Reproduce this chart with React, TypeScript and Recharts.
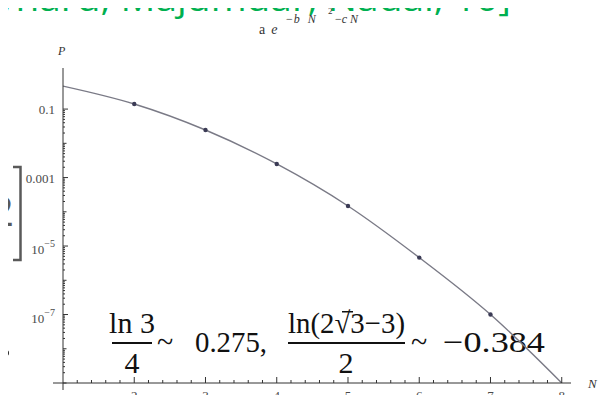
import { ComposedChart, Line, Scatter, XAxis, YAxis } from "recharts";

// fitted curve a·e^(−bN²−cN), values at integer N
const curveN = [1, 2, 3, 4, 5, 6, 7, 8];
const curveP = [0.47, 0.141, 0.0245, 0.0025, 1.48e-4, 4.6e-6, 1.0e-7, 1.0e-9];

// measured points
const sampleN = [2, 3, 4, 5, 6, 7];
const sampleP = [0.141, 0.0245, 0.0025, 1.48e-4, 4.6e-6, 1.0e-7];

const xLabels = [2, 3, 4, 5, 6, 7, 8];
const yLabelValues = [0.1, 0.001, 1e-5, 1e-7];
const yLabelBase = ["0.1", "0.001", "10", "10"];
const yLabelExp = ["", "", "−5", "−7"];

const X_DOMAIN: [number, number] = [1, 8.13];
const Y_DOMAIN: [number, number] = [1e-9, Math.pow(10, 0.2)];

const curveData = curveN.map((n, i) => ({ N: n, P: curveP[i] }));
const sampleData = sampleN.map((n, i) => ({ N: n, P: sampleP[i] }));

// minor ticks every 0.2 along N, majors on the integers
const xTicks: number[] = [];
for (let i = 6; i <= 40; i++) xTicks.push(Math.round(i * 2) / 10);

// log ticks: 1..9 × 10^k up to 0.1
const yTicks: number[] = [0.1];
for (let k = -9; k <= -2; k++) {
  for (let m = 1; m <= 9; m++) yTicks.push(Number(`${m}e${k}`));
}

const AXIS = "#333";
const LABEL = "#4a4a4a";
const SERIF = "'Liberation Serif', 'DejaVu Serif', serif";

const XTick = (props: any) => {
  const { x, y, payload } = props;
  const v = payload.value as number;
  const major = xLabels.includes(v);
  return (
    <g>
      <line x1={x} x2={x} y1={y} y2={y - (major ? 6 : 3)} stroke={AXIS} strokeWidth={1} />
      {major && (
        <text x={x} y={y + 17} textAnchor="middle" fontFamily={SERIF} fontSize={13} fill={LABEL}>
          {v}
        </text>
      )}
    </g>
  );
};

const YTick = (props: any) => {
  const { x, y, payload } = props;
  const v = payload.value as number;
  const lg = Math.log10(v);
  const li = yLabelValues.findIndex((t) => Math.abs(Math.log10(t) - lg) < 1e-6);
  const decade = Math.abs(lg - Math.round(lg)) < 1e-6;
  const len = li >= 0 ? 5 : decade ? 3.5 : 2;
  return (
    <g>
      <line x1={x} x2={x + len} y1={y} y2={y} stroke={AXIS} strokeWidth={1} />
      {li >= 0 && (
        <text
          x={x - 8}
          y={y + (yLabelExp[li] ? 8 : 5)}
          textAnchor="end"
          fontFamily={SERIF}
          fontSize={13}
          fill={LABEL}
        >
          {yLabelBase[li]}
          {yLabelExp[li] && (
            <tspan dy={-7} fontSize={10}>
              {yLabelExp[li]}
            </tspan>
          )}
        </text>
      )}
    </g>
  );
};

const Dot = (props: any) => <circle cx={props.cx} cy={props.cy} r={2.2} fill="#3b3b55" />;

function Slide() {
  return (
    <svg width={606} height={403} style={{ position: "absolute", left: 0, top: 0 }}>
      {/* heading, cut off by the top edge */}
      <text
        x={-4}
        y={11}
        textLength={515}
        lengthAdjust="spacingAndGlyphs"
        fontFamily="'Open Sans', sans-serif"
        fontSize={35}
        fill="#00b050"
      >
        ynard, Majumdar, Nadal, 10]
      </text>

      {/* plot title a e^(−b N² −c N) */}
      <g fontFamily={SERIF} fill="#333">
        <text x={259} y={34} fontSize={14}>
          a<tspan dx={6} fontStyle="italic">e</tspan>
        </text>
        <text x={286} y={23} fontSize={12}>
          −<tspan dx={1} fontStyle="italic">b</tspan>
          <tspan dx={8} fontStyle="italic">N</tspan>
        </text>
        <text x={328} y={14} fontSize={9}>2</text>
        <text x={335} y={23} fontSize={12}>
          −<tspan fontStyle="italic">c N</tspan>
        </text>
      </g>

      {/* axis names */}
      <text x={58} y={55} fontFamily={SERIF} fontStyle="italic" fontSize={12} fill="#333">
        P
      </text>
      <text x={588} y={388} fontFamily={SERIF} fontStyle="italic" fontSize={13} fill="#333">
        N
      </text>
      <line x1={53} x2={63} y1={383} y2={383} stroke={AXIS} />
      <line x1={63} x2={63} y1={383} y2={390} stroke={AXIS} />

      {/* left margin bits of the slide */}
      <text x={-10} y={226} fontFamily="'Open Sans', sans-serif" fontSize={42} fill="#595959">
        2
      </text>
      <path d="M13,167 H20.5 V260 H13" fill="none" stroke="#595959" strokeWidth={2.5} />
      <circle cx={6} cy={353} r={3} fill="#222" />

      {/* ln3/4 ~ 0.275, ln(2√3−3)/2 ~ −0.384 */}
      <g fontFamily={SERIF} fontSize={30} fill="#111">
        <text x={132} y={333} textAnchor="middle">ln 3</text>
        <rect x={112} y={342} width={40} height={2} />
        <text x={132} y={373} textAnchor="middle">4</text>
        <text x={157} y={352}>~</text>
        <text x={195} y={352} textLength={72} lengthAdjust="spacingAndGlyphs">0.275,</text>
        <text x={288} y={333} textLength={117} lengthAdjust="spacingAndGlyphs">
          ln(2√3−3)
        </text>
        <rect x={342} y={311} width={11} height={1.5} />
        <rect x={288} y={342} width={117} height={2} />
        <text x={346} y={373} textAnchor="middle">2</text>
        <text x={411} y={352}>~</text>
        <text x={443} y={352} textLength={102} lengthAdjust="spacingAndGlyphs">−0.384</text>
      </g>

      {/* slide border */}
      <rect x={601.5} y={0} width={1.5} height={403} fill="#3a3a3a" />
      <rect x={603} y={0} width={3} height={403} fill="#5e7f4c" />
    </svg>
  );
}

export default function App() {
  return (
    <div style={{ position: "relative", width: 606, height: 403, margin: -8, overflow: "hidden", background: "#fff" }}>
      <Slide />
      <div style={{ position: "absolute", left: 0, top: 0 }}>
        <ComposedChart width={606} height={403} margin={{ top: 68, right: 35, bottom: 0, left: 13 }}>
          <XAxis
            dataKey="N"
            type="number"
            domain={X_DOMAIN}
            allowDataOverflow
            ticks={xTicks}
            interval={0}
            tickSize={0}
            tickMargin={0}
            tickLine={false}
            axisLine={{ stroke: AXIS }}
            height={20}
            tick={(p: any) => <XTick {...p} />}
          />
          <YAxis
            dataKey="P"
            type="number"
            scale="log"
            domain={Y_DOMAIN}
            allowDataOverflow
            ticks={yTicks}
            interval={0}
            width={50}
            tickSize={0}
            tickMargin={0}
            tickLine={false}
            axisLine={{ stroke: AXIS }}
            tick={(p: any) => <YTick {...p} />}
          />
          <Line
            data={curveData}
            dataKey="P"
            type="monotone"
            stroke="#7a7a86"
            strokeWidth={1.4}
            dot={false}
            isAnimationActive={false}
          />
          <Scatter data={sampleData} dataKey="P" shape={Dot} isAnimationActive={false} />
        </ComposedChart>
      </div>
    </div>
  );
}
